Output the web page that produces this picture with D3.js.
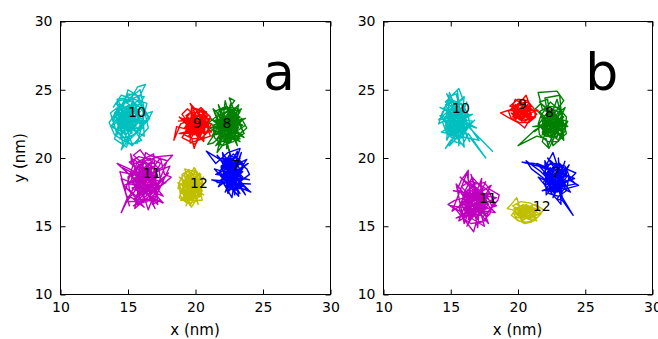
<!DOCTYPE html>
<html><head><meta charset="utf-8">
<script src="https://cdn.jsdelivr.net/npm/d3@7"></script>
<style>body{margin:0;background:#fff}svg{display:block;font-family:"DejaVu Sans",sans-serif}</style>
</head><body><svg id="c" width="658" height="339"></svg>
<script>
const ticks = [10, 15, 20, 25, 30];
const ids = [7, 8, 9, 10, 11, 12];
const colors = ["#0000ff", "#008000", "#ff0000", "#00bfbf", "#bf00bf", "#bfbf00"];
const panels = ["a", "b"];

// panel a trajectories (nm): outer excursions, core, mid-region, periphery jumps
const a7 = [[22.7,19.0],[22.3,19.5],[23.0,18.6],[22.0,18.7],[22.6,20.0],[21.8,19.9],[20.8,20.5],[21.5,19.6],[22.4,20.4],[23.3,20.7],[23.0,19.8],[23.8,19.2],[24.0,18.8],[23.2,18.2],[24.1,17.5],[22.9,18.0],[23.6,17.9],[22.5,18.3],[21.2,18.4],[22.1,18.1],[22.7,17.1],[22.8,17.8],[23.9,17.7],[22.6,18.9],[22.2,20.1],[22.9,19.3],[23.4,18.9],[22.4,18.5],[21.9,19.3],[22.8,20.3],[23.5,19.6],[22.5,19.4],[22.0,20.0],[23.1,19.0],[22.7,18.4],[23.3,17.4],[22.6,18.1],[21.7,18.9],[22.4,19.8],[22.9,18.8]];
const a7c = [[22.5,19.2],[23.1,18.7],[22.2,18.4],[22.9,19.8],[23.4,19.0],[22.6,18.0],[22.1,19.1],[23.0,20.1],[22.4,19.6],[23.3,18.3],[22.7,17.7],[22.0,18.8],[22.8,19.4],[23.5,18.6],[22.3,17.9],[22.9,18.5],[22.2,19.9],[23.2,19.5],[22.6,18.7],[23.4,17.8],[22.5,18.2],[21.9,19.4],[22.8,20.0],[23.1,19.1],[22.4,18.6],[23.0,17.9],[22.7,19.0],[22.1,18.2],[23.3,19.7],[22.6,19.3],[22.9,18.1],[22.3,18.9],[23.2,18.4],[22.5,19.8],[22.0,19.6],[22.8,18.8],[23.4,19.3],[22.7,18.3],[22.2,18.6],[23.0,19.6],[22.6,17.8],[22.4,19.0],[23.1,18.9],[22.9,19.2]];
const a7d = [[22.1,19.7],[22.8,18.9],[23.5,18.1],[22.9,17.6],[22.3,18.3],[21.8,19.0],[22.5,20.2],[23.2,19.9],[23.6,19.4],[23.0,18.4],[22.4,17.8],[22.7,18.6],[23.3,18.8],[22.6,19.6],[22.0,19.2],[22.4,18.0],[23.1,17.7],[23.4,18.5],[22.8,19.7],[22.2,20.0],[22.6,19.1],[23.0,18.2],[22.5,17.6],[21.9,18.4],[22.7,19.4],[23.3,20.0],[22.9,19.0],[22.3,19.4],[22.8,18.5],[23.5,19.0],[22.5,18.9],[22.1,18.6],[23.0,19.3],[22.7,17.9],[22.4,19.3]];
const a7e = [[21.6,20.2],[23.7,17.3],[22.0,20.4],[22.4,17.4],[23.4,20.4],[22.2,17.5],[23.8,19.9],[21.5,18.8],[24.0,18.4],[21.4,19.2],[23.2,17.2],[22.5,20.6],[22.9,17.3],[23.1,20.5],[21.7,17.9],[23.9,19.6],[21.6,18.2],[24.1,18.1]];
const a8 = [[22.4,22.3],[22.0,22.8],[22.8,21.9],[21.8,21.5],[22.6,23.1],[23.2,22.6],[22.5,24.4],[22.9,24.2],[22.3,23.4],[21.5,23.0],[21.0,22.6],[21.7,22.1],[22.9,21.3],[23.6,21.8],[23.0,22.9],[22.2,21.2],[21.6,20.4],[21.9,21.6],[21.3,21.1],[20.9,21.0],[21.5,21.9],[22.7,22.4],[23.3,23.4],[22.1,23.7],[21.4,23.4],[22.0,22.2],[23.1,21.6],[23.8,22.2],[23.4,22.9],[22.6,22.0],[21.8,22.6],[22.4,23.0],[23.0,23.7],[22.3,21.6],[21.6,22.4],[22.8,22.7],[23.5,22.4],[22.2,22.5],[21.9,23.2],[22.7,23.5],[22.5,21.8],[21.7,21.4],[22.3,22.0],[23.1,22.3],[22.4,22.6]];
const a8c = [[22.1,22.7],[22.9,22.0],[21.7,21.8],[22.5,23.2],[23.2,22.5],[22.3,21.3],[21.5,22.3],[22.7,22.9],[23.0,21.6],[22.0,21.5],[21.8,23.0],[22.6,22.3],[23.3,23.0],[22.4,23.5],[21.6,22.6],[22.2,21.9],[22.9,22.7],[22.5,21.1],[21.9,22.1],[22.8,23.3],[23.1,22.1],[22.2,22.4],[21.5,21.7],[22.4,22.0],[23.0,23.3],[22.6,21.6],[21.8,22.9],[22.3,23.1],[22.9,21.9],[22.1,21.2],[21.7,22.4],[22.7,22.2],[23.2,21.8],[22.4,22.8],[21.9,23.4],[22.5,22.5],[23.0,22.4],[22.0,22.0],[22.8,21.4],[22.3,22.6],[21.6,21.4],[22.6,23.0],[22.2,22.2]];
const a8d = [[21.6,23.3],[22.3,23.8],[23.1,23.1],[23.5,22.0],[22.8,21.2],[22.0,20.9],[21.4,21.5],[21.3,22.4],[21.9,22.6],[22.6,22.6],[23.2,23.6],[22.7,23.7],[21.9,23.5],[22.5,22.0],[23.3,21.4],[22.4,21.4],[21.7,22.0],[22.2,23.0],[22.9,23.0],[23.4,22.7],[22.8,22.0],[22.1,21.6],[21.5,22.8],[22.3,22.4],[23.0,21.9],[22.6,21.2],[21.8,21.2],[22.0,22.6],[22.7,23.3],[23.2,22.2],[22.4,22.2],[21.6,22.2],[22.5,23.4],[22.9,22.4],[22.1,22.9]];
const a8e = [[21.2,21.6],[23.7,22.9],[21.0,22.2],[23.3,21.2],[21.1,22.9],[23.6,21.5],[21.3,23.6],[22.5,20.5],[21.7,23.9],[23.1,20.9],[22.2,24.2],[21.8,20.9],[22.6,24.0],[22.3,20.7],[23.2,23.9],[21.2,22.0],[23.4,23.6],[21.5,20.9],[23.7,22.4]];
const a9 = [[20.0,22.4],[19.5,22.8],[20.4,22.0],[19.2,21.8],[19.8,23.2],[20.6,22.9],[19.6,24.0],[20.1,23.0],[18.9,22.5],[18.4,21.3],[18.6,22.3],[19.4,22.1],[20.8,21.9],[21.2,22.5],[20.3,22.6],[19.7,21.5],[19.9,20.7],[20.2,21.6],[19.3,23.1],[20.0,23.6],[20.7,23.3],[19.8,22.2],[19.1,22.9],[20.5,21.4],[21.0,22.2],[20.2,22.9],[19.6,22.6],[18.8,23.0],[19.9,21.9],[20.6,22.4],[20.1,23.4],[19.4,22.4],[20.3,21.8],[21.1,23.0],[20.4,23.7],[19.7,23.0],[19.2,22.2],[20.0,21.8],[20.9,22.7],[20.1,22.5]];
const a9c = [[19.7,22.7],[20.4,22.2],[19.5,22.0],[20.2,23.1],[20.8,22.6],[19.9,21.7],[19.3,22.5],[20.0,22.9],[20.6,21.9],[19.6,21.8],[19.4,23.0],[20.3,22.4],[20.9,23.1],[20.1,22.0],[19.8,23.2],[19.2,22.2],[20.5,22.8],[20.7,21.7],[19.9,22.5],[19.5,22.7],[20.2,21.8],[20.8,22.3],[19.7,22.1],[20.0,23.0],[20.4,22.6],[19.4,21.9],[20.6,23.0],[19.9,22.3],[19.3,22.9],[20.3,21.6],[20.7,22.5],[20.0,22.1],[19.6,22.4],[20.5,22.0],[19.8,22.8]];
const a9d = [[19.1,22.6],[19.6,23.3],[20.4,23.4],[20.9,22.9],[21.0,22.0],[20.5,21.5],[19.8,21.4],[19.2,21.7],[19.5,22.4],[20.2,22.7],[20.7,22.1],[20.1,21.6],[19.4,22.7],[19.9,23.1],[20.6,23.2],[20.9,22.4],[20.3,22.0],[19.7,22.0],[19.2,22.9],[19.8,22.6],[20.5,22.5],[20.0,21.9],[19.5,21.6],[20.1,22.8],[20.7,22.8],[20.3,23.1],[19.6,22.9],[19.3,22.4],[20.0,22.3],[20.6,22.2]];
const a9e = [[18.8,21.8],[21.2,21.9],[19.4,23.6],[19.0,23.2],[20.6,21.2],[20.8,23.4],[19.7,23.7],[19.6,21.1],[21.1,21.6],[20.5,23.6],[19.0,21.5],[20.0,21.0],[21.1,22.9],[18.7,22.7]];
const a10 = [[15.0,22.8],[14.5,23.3],[15.3,22.4],[14.2,22.1],[15.6,23.6],[14.8,24.1],[15.9,24.6],[16.3,25.4],[15.7,25.2],[15.2,24.3],[14.4,23.8],[13.8,22.9],[14.6,22.5],[15.4,23.1],[16.1,22.2],[15.1,21.5],[14.5,20.6],[14.9,21.8],[13.7,22.3],[14.3,23.0],[15.5,22.0],[16.0,21.3],[15.3,21.0],[14.7,22.7],[16.8,23.4],[16.4,22.6],[15.2,23.5],[14.1,24.0],[14.9,23.0],[15.8,23.9],[16.2,24.5],[15.0,24.7],[14.3,23.5],[13.6,22.6],[14.0,21.7],[14.8,21.2],[15.6,22.5],[14.6,23.9],[15.4,24.4],[14.7,22.2],[15.9,22.9],[15.1,22.1],[14.2,22.8],[15.0,23.6],[15.7,24.2],[16.5,23.0],[15.5,21.7],[14.4,21.4],[14.9,22.4],[15.3,23.8],[14.0,23.1],[14.8,23.4],[15.6,22.8],[15.1,22.9]];
const a10c = [[14.6,23.1],[15.4,22.5],[14.3,22.3],[15.1,23.6],[15.8,23.0],[14.8,22.0],[14.2,23.4],[15.0,22.7],[15.7,22.2],[14.5,21.9],[14.9,23.8],[15.5,23.3],[16.0,22.6],[14.4,22.8],[15.2,22.1],[14.7,23.5],[15.6,23.7],[14.1,22.6],[15.0,23.2],[15.3,21.8],[14.6,22.4],[15.9,23.4],[14.3,23.7],[15.2,22.9],[14.8,22.3],[15.6,22.0],[14.0,23.0],[14.9,23.4],[15.4,22.8],[14.5,22.6],[15.1,22.3],[15.8,23.6],[14.7,23.0],[14.2,22.1],[15.3,23.5],[15.0,22.2],[14.4,23.2],[15.6,22.6],[14.9,22.8]];
const a10d = [[14.3,24.2],[15.0,24.3],[15.7,23.9],[16.2,23.3],[15.9,22.4],[15.4,21.6],[14.6,21.5],[14.1,22.0],[13.9,22.8],[14.4,23.5],[15.1,23.9],[15.5,23.5],[15.9,22.8],[15.2,21.9],[14.5,22.2],[14.0,23.3],[14.7,24.0],[15.4,24.2],[15.8,23.2],[15.5,22.3],[14.8,21.7],[14.2,22.5],[14.6,23.2],[15.3,23.3],[15.7,22.6],[15.0,22.0],[14.4,22.0],[14.9,22.9],[15.5,23.9],[14.8,23.7],[14.1,23.6],[14.5,22.9],[15.2,22.5],[15.9,23.7],[15.3,24.0],[14.7,22.6],[15.1,23.1]];
const a10e = [[13.8,22.4],[15.3,20.9],[16.5,22.2],[16.3,23.1],[15.9,25.0],[13.7,23.3],[14.2,21.7],[14.4,22.6],[16.2,21.6],[16.1,23.6],[15.8,24.5],[15.0,25.0],[14.0,21.4],[14.9,20.8],[15.0,21.2],[16.6,22.9],[15.5,24.8],[14.8,24.4],[14.2,24.3],[14.6,21.0],[15.7,21.1],[15.9,21.9],[16.4,24.0],[14.5,24.6],[13.9,23.7]];
const a11 = [[16.3,18.5],[15.8,19.0],[16.7,18.1],[15.6,17.8],[16.1,19.6],[15.4,20.2],[15.9,20.6],[16.5,19.8],[17.2,20.1],[18.3,20.2],[17.5,19.3],[16.9,19.0],[16.2,18.2],[15.3,18.6],[14.2,19.6],[15.1,19.2],[15.9,18.7],[15.2,17.4],[14.5,16.0],[15.0,17.2],[15.7,16.9],[16.4,17.5],[17.0,16.3],[16.6,17.2],[17.6,16.7],[16.8,17.6],[17.3,18.3],[18.0,18.9],[17.1,17.9],[16.0,17.6],[15.5,18.3],[16.2,19.1],[16.9,18.6],[17.4,19.6],[16.6,20.0],[15.7,19.4],[15.1,18.1],[15.9,17.9],[16.7,18.8],[16.1,17.0],[15.4,16.5],[16.3,16.8],[17.2,17.3],[16.5,18.4],[15.8,18.2],[16.4,19.3],[17.0,18.2],[16.2,17.8],[15.6,18.9],[16.8,19.4],[16.0,18.4]];
const a11c = [[15.8,18.8],[16.6,18.0],[15.5,17.6],[16.3,19.4],[17.0,18.6],[16.1,17.3],[15.3,18.3],[16.0,19.1],[16.8,19.6],[15.7,19.7],[15.4,19.0],[16.5,18.4],[17.2,17.9],[16.2,17.1],[15.6,17.9],[16.9,17.5],[16.4,18.9],[15.9,18.2],[15.2,18.7],[16.1,19.8],[16.7,19.1],[17.1,18.2],[16.0,17.7],[15.5,18.5],[16.4,17.4],[16.9,18.9],[15.8,19.3],[16.3,18.3],[15.6,17.2],[16.6,17.7],[17.0,19.4],[15.9,18.6],[15.4,19.5],[16.2,18.7],[16.8,18.1],[15.7,17.5],[16.5,19.6],[16.1,18.0],[15.3,17.8],[16.7,17.2],[16.0,18.9],[16.4,18.6]];
const a11d = [[15.1,19.7],[15.8,20.1],[16.6,19.9],[17.3,19.2],[17.4,18.4],[17.0,17.4],[16.4,16.8],[15.7,17.1],[15.1,17.7],[15.0,18.6],[15.6,19.2],[16.3,19.7],[16.9,19.3],[17.2,18.7],[16.7,17.9],[16.2,17.5],[15.5,17.9],[15.3,18.9],[16.0,19.5],[16.6,18.8],[17.1,17.8],[16.5,17.6],[15.8,17.4],[15.4,18.2],[15.9,19.0],[16.5,19.2],[17.0,18.4],[16.6,17.0],[15.9,16.9],[15.6,18.6],[16.2,19.3],[16.8,19.8],[16.3,18.1],[15.7,18.5],[16.4,17.9],[17.3,18.1],[16.1,18.5]];
const a11e = [[14.6,19.3],[17.2,16.6],[16.9,20.3],[15.3,19.5],[15.2,20.3],[16.5,16.2],[17.9,19.8],[16.6,20.2],[16.3,20.4],[15.5,16.3],[18.2,18.6],[17.7,18.8],[17.4,20.0],[14.9,16.8],[17.4,16.9],[16.8,16.6],[18.1,19.4],[14.7,18.0],[16.2,16.4],[15.4,17.0],[17.8,18.2],[14.4,19.0],[15.1,16.5],[14.5,18.5],[17.6,17.2],[15.5,19.9],[14.8,17.6]];
const a12 = [[19.6,17.9],[19.2,18.3],[19.9,17.6],[19.0,17.4],[19.5,18.6],[19.9,19.3],[20.2,18.7],[19.4,19.0],[18.9,18.5],[18.7,17.8],[19.3,17.2],[19.7,16.4],[20.1,17.0],[20.5,17.6],[20.2,18.2],[19.8,18.1],[19.1,17.9],[18.8,17.1],[19.4,16.7],[20.0,17.4],[20.6,18.0],[20.3,18.9],[19.7,18.4],[19.3,17.7],[19.8,17.2],[19.0,16.9],[19.5,17.5],[20.1,18.4],[19.6,18.9],[19.2,18.6],[19.8,17.8],[20.4,17.2],[19.5,16.9],[19.1,17.5],[19.7,18.0]];
const a12c = [[19.3,18.2],[19.9,17.4],[19.1,17.1],[19.7,18.6],[20.3,17.9],[19.5,17.0],[19.0,18.0],[19.8,18.8],[20.2,17.2],[19.4,17.6],[19.2,18.7],[20.0,18.1],[20.4,18.5],[19.6,17.3],[19.1,17.8],[19.9,17.9],[20.1,16.9],[19.5,18.4],[18.9,17.5],[19.7,17.7],[20.3,18.2],[19.3,16.9],[19.6,18.2],[20.0,17.6],[19.2,18.4],[19.8,17.1],[19.4,18.0],[20.2,18.7],[19.7,17.5],[19.1,17.3]];
const a12d = [[19.0,18.8],[19.5,19.1],[20.1,19.0],[20.5,18.3],[20.4,17.5],[20.0,16.8],[19.4,16.7],[18.9,17.2],[18.8,17.9],[19.3,18.5],[19.9,18.6],[20.2,17.8],[19.8,17.3],[19.2,17.0],[19.0,17.7],[19.6,18.4],[20.1,18.3],[19.7,16.9],[19.3,17.4],[19.5,18.0],[20.3,17.4],[19.9,18.2],[19.4,18.8],[19.1,18.1],[19.7,17.6]];
const a12e = [[18.8,18.6],[20.6,17.3],[18.7,18.2],[19.6,16.5],[20.6,18.6],[18.9,16.9],[20.5,16.9],[20.0,19.2],[19.3,16.5],[20.4,18.8],[19.2,19.2],[20.2,16.6],[19.5,19.2]];

// panel b trajectories (nm)
const b7 = [[22.8,18.3],[22.4,18.7],[23.2,18.0],[22.2,18.1],[22.6,19.0],[21.5,19.4],[20.3,19.7],[21.2,19.6],[22.0,19.3],[22.6,20.4],[22.9,19.5],[23.6,19.2],[24.3,18.9],[23.8,18.4],[24.5,18.0],[23.4,17.7],[22.9,17.0],[23.3,16.9],[24.1,15.8],[23.0,17.6],[22.5,17.9],[21.8,18.6],[21.0,19.2],[20.6,19.8],[21.7,19.0],[22.3,18.4],[23.1,18.8],[23.5,18.2],[22.7,17.5],[22.1,17.8],[22.9,18.6],[23.3,19.3],[22.4,19.6],[21.9,18.9],[22.7,18.1],[23.6,17.9],[22.6,18.5]];
const b7c = [[22.5,18.8],[23.3,18.2],[22.3,17.8],[23.0,19.2],[23.6,18.6],[22.7,17.4],[22.1,18.5],[22.9,18.9],[23.5,17.8],[22.4,19.3],[22.0,18.0],[22.8,18.4],[23.4,19.0],[23.1,17.5],[22.6,18.1],[22.2,19.0],[23.0,18.6],[23.7,18.3],[22.8,17.7],[22.4,18.4],[23.2,19.4],[22.6,19.0],[23.3,17.9],[22.1,17.6],[22.9,18.2],[23.5,19.2],[22.7,18.7],[22.3,18.2],[23.1,18.0],[22.5,17.5],[23.6,18.8],[22.8,19.1],[22.2,18.7],[23.0,17.8],[22.6,18.5]];
const b7d = [[22.0,19.5],[22.8,19.6],[23.5,19.4],[23.8,18.7],[23.6,17.6],[23.0,17.2],[22.3,17.4],[21.9,18.2],[22.2,18.9],[22.9,19.2],[23.4,18.4],[23.2,17.7],[22.6,17.7],[22.1,18.3],[22.5,19.1],[23.1,19.6],[23.7,19.0],[23.3,18.6],[22.7,18.2],[22.3,18.6],[22.9,17.5],[23.5,18.0],[22.4,17.9],[22.0,18.8],[22.7,19.4],[23.3,19.1],[22.8,18.7],[23.1,18.3],[22.5,18.4]];
const b7e = [[21.4,19.6],[24.2,18.5],[21.8,17.6],[24.3,18.1],[22.2,20.0],[23.9,17.5],[21.5,18.6],[23.2,16.6],[23.0,20.0],[23.3,17.0],[22.0,19.8],[22.1,17.3],[23.8,19.5],[22.6,17.1],[23.5,19.8]];
const b8 = [[22.6,22.5],[22.2,23.0],[23.0,22.1],[22.0,21.9],[22.8,23.4],[23.4,24.2],[22.9,24.9],[21.5,24.8],[21.8,23.6],[22.5,23.2],[23.2,22.8],[23.7,22.7],[23.3,21.9],[22.7,21.5],[22.3,20.7],[22.1,21.4],[21.4,21.6],[20.0,20.9],[21.2,22.0],[21.9,22.4],[22.7,22.2],[23.1,23.5],[22.4,24.1],[21.7,23.1],[21.5,22.5],[22.4,21.8],[23.0,21.3],[23.5,22.3],[22.9,22.9],[22.1,22.7],[21.8,21.7],[22.6,21.9],[23.2,22.4],[22.5,23.6],[21.9,23.0],[22.3,22.3],[23.0,22.6],[22.7,23.0],[21.6,24.1],[22.2,24.3],[22.4,22.8]];
const b8c = [[22.2,22.9],[23.0,22.1],[21.9,21.8],[22.7,23.3],[23.3,22.6],[22.4,21.5],[21.8,22.5],[22.5,22.8],[23.1,21.7],[22.1,22.2],[22.8,23.5],[23.4,23.0],[22.3,21.9],[21.7,23.1],[22.6,22.3],[23.2,22.9],[22.9,21.5],[22.0,21.6],[22.4,23.2],[23.0,22.7],[22.6,21.9],[21.9,22.8],[22.8,22.2],[23.3,21.9],[22.2,23.4],[22.5,22.1],[23.1,23.2],[22.0,22.4],[22.7,21.7],[23.4,22.4],[22.3,22.6],[21.8,21.9],[22.9,22.9],[22.5,22.5]];
const b8d = [[21.6,23.4],[22.3,23.8],[23.0,23.7],[23.6,23.0],[23.5,22.0],[23.0,21.2],[22.2,21.2],[21.6,21.7],[21.5,22.4],[22.0,23.1],[22.7,23.5],[23.3,23.3],[23.2,22.2],[22.6,21.5],[21.9,21.9],[21.8,22.9],[22.5,23.0],[23.1,22.6],[22.8,21.8],[22.1,21.6],[21.7,22.3],[22.4,22.7],[23.0,23.0],[23.4,21.6],[22.6,22.1],[22.0,22.7],[22.3,23.5],[22.9,22.3],[22.2,22.0],[22.7,22.6]];
const b8e = [[21.1,22.3],[23.7,22.3],[21.7,24.0],[21.3,23.6],[23.4,21.3],[23.1,24.6],[22.0,24.4],[22.6,20.9],[23.6,21.8],[22.9,24.3],[21.8,21.2],[22.2,20.8],[23.5,23.7],[21.2,21.9]];
const b9 = [[20.3,23.3],[19.9,23.6],[20.7,23.0],[19.6,23.0],[20.2,24.1],[20.6,24.6],[20.9,23.8],[20.1,23.4],[19.3,23.5],[18.7,23.3],[19.4,22.9],[20.0,22.6],[20.5,22.2],[20.8,22.7],[21.4,23.2],[21.0,23.6],[20.4,23.9],[19.8,24.3],[19.6,23.8],[20.2,23.0],[20.9,23.3],[21.5,23.5],[20.6,23.5],[19.9,22.9],[19.5,23.3],[20.3,22.7],[20.8,24.1],[20.0,24.0],[19.7,23.3],[20.4,23.4],[21.1,22.9],[20.5,23.1]];
const b9c = [[19.9,23.5],[20.6,23.0],[19.7,22.9],[20.4,23.9],[21.0,23.3],[20.1,22.8],[19.5,23.6],[20.3,23.2],[20.9,23.8],[20.0,24.0],[19.6,23.2],[20.5,22.7],[21.1,23.0],[20.2,23.6],[19.8,22.8],[20.7,23.5],[20.4,23.1],[19.6,23.9],[20.1,23.3],[20.8,22.9],[20.3,23.8],[19.9,23.0],[20.6,23.6],[21.0,23.8],[20.2,22.9],[19.7,23.4],[20.5,23.4]];
const b9d = [[19.4,23.8],[20.0,24.3],[20.7,24.2],[21.2,23.6],[21.3,23.0],[20.8,22.6],[20.1,22.6],[19.5,22.9],[19.3,23.4],[19.8,23.9],[20.5,23.8],[21.0,23.2],[20.6,22.8],[19.9,23.2],[19.6,23.6],[20.2,24.1],[20.9,23.6],[20.4,22.9],[19.7,23.1],[20.0,23.7],[20.7,23.3],[20.3,23.5]];
const b10 = [[15.4,22.5],[15.0,23.0],[15.8,22.2],[14.8,21.9],[15.3,23.6],[14.6,24.1],[15.6,25.1],[15.9,24.3],[15.2,23.9],[14.4,23.4],[14.1,22.5],[14.6,22.8],[15.5,21.8],[14.6,20.7],[15.0,21.3],[15.9,21.0],[16.3,21.8],[17.6,20.0],[16.5,21.4],[15.7,21.6],[16.2,22.4],[18.1,20.5],[16.7,21.9],[15.9,22.7],[15.1,22.3],[14.3,23.0],[14.9,24.5],[15.4,24.7],[15.7,23.5],[16.4,23.1],[15.6,22.9],[14.9,22.1],[15.3,21.4],[16.0,21.5],[15.2,22.8],[14.5,23.7],[15.1,24.1],[15.8,23.9],[16.1,23.2],[15.5,22.0],[14.7,22.4],[15.3,22.9],[16.6,22.7],[15.9,21.9],[15.2,21.9],[15.6,22.6]];
const b10c = [[15.0,22.9],[15.7,22.3],[14.8,22.1],[15.4,23.5],[16.1,22.9],[15.2,21.6],[14.6,22.7],[15.5,23.0],[16.0,21.8],[15.1,23.7],[14.7,23.3],[15.6,22.6],[16.2,23.4],[15.3,22.0],[14.9,22.5],[15.8,23.7],[15.4,21.7],[14.5,23.0],[15.2,23.2],[15.9,22.5],[15.0,21.9],[14.8,23.6],[15.6,23.3],[16.0,22.2],[15.3,22.7],[14.6,22.2],[15.5,21.6],[15.1,22.4],[15.8,23.1],[14.9,23.0],[15.4,22.2],[16.1,23.6],[15.2,22.9],[15.6,21.9],[15.0,23.4],[15.5,22.5]];
const b10d = [[14.6,23.9],[15.2,24.2],[15.8,24.0],[16.3,23.2],[16.4,22.4],[15.9,21.6],[15.2,21.4],[14.7,21.8],[14.4,22.6],[14.8,23.4],[15.5,23.8],[16.0,23.3],[16.2,22.6],[15.6,22.0],[15.0,21.6],[14.6,22.4],[15.0,23.2],[15.7,23.6],[16.1,22.1],[15.4,21.9],[14.8,22.8],[15.3,23.6],[15.9,22.8],[15.4,22.4],[14.7,23.0],[15.1,22.6],[15.7,22.9],[15.2,23.3]];
const b10e = [[14.2,23.7],[16.9,22.2],[14.2,23.1],[16.0,20.8],[15.5,24.9],[15.6,20.9],[16.0,24.5],[14.1,22.8],[16.6,23.2],[14.3,21.9],[17.1,21.3],[14.7,24.7],[16.4,21.2],[14.9,24.8],[14.7,21.3],[16.2,24.1],[14.9,20.9],[16.8,22.8]];
const b11 = [[17.0,16.8],[16.6,17.3],[17.4,16.4],[16.4,16.2],[16.9,17.8],[16.3,18.3],[16.3,19.1],[15.8,18.4],[15.5,17.7],[16.1,17.1],[15.3,16.9],[14.8,16.6],[15.4,16.2],[16.0,15.5],[16.7,14.6],[16.9,15.3],[17.6,15.4],[17.8,16.1],[18.5,16.9],[18.6,17.3],[17.9,17.7],[17.5,18.2],[16.8,18.1],[16.2,17.6],[15.7,16.5],[16.5,16.7],[17.2,17.2],[17.7,16.8],[17.1,15.9],[16.3,15.8],[15.6,15.4],[16.0,16.4],[16.8,16.5],[17.3,17.8],[16.6,18.6],[15.9,17.3],[16.4,16.9],[17.6,17.4],[18.1,16.4],[17.4,15.7],[16.7,16.0],[16.2,16.8],[17.0,17.5],[16.5,17.0]];
const b11c = [[16.4,17.3],[17.3,16.5],[16.1,16.1],[16.8,17.9],[17.7,17.2],[16.6,15.6],[15.9,16.8],[16.9,17.0],[17.6,15.9],[16.3,17.7],[16.0,15.7],[17.1,16.2],[17.9,17.5],[16.7,16.6],[16.2,17.0],[17.4,17.8],[17.0,15.5],[16.4,16.3],[15.8,17.4],[16.9,16.4],[17.5,17.0],[16.5,18.0],[17.2,15.9],[16.1,16.6],[17.8,16.3],[16.7,17.3],[16.3,15.5],[17.0,16.9],[17.6,16.6],[16.5,16.0],[15.9,17.1],[17.3,17.5],[16.8,15.9],[16.2,16.9],[17.4,16.2],[16.6,17.6],[17.1,17.2],[16.4,16.7],[17.7,15.7],[16.9,16.6]];
const b11d = [[15.8,17.9],[16.4,18.3],[17.1,18.1],[17.8,17.6],[18.2,16.8],[17.9,15.9],[17.3,15.3],[16.5,15.2],[15.9,15.6],[15.6,16.4],[16.0,17.2],[16.7,17.7],[17.4,17.4],[17.8,16.6],[17.3,16.0],[16.6,15.7],[16.0,16.2],[16.3,16.9],[17.0,17.6],[17.6,17.1],[17.5,16.2],[16.9,15.7],[16.2,15.9],[15.8,16.6],[16.5,17.4],[17.2,16.8],[16.8,16.2],[16.1,16.5],[16.7,17.0],[17.4,16.5],[16.9,17.3],[16.3,17.4]];
const b11e = [[15.2,17.6],[18.4,17.1],[15.4,15.6],[18.4,16.5],[15.7,18.6],[18.3,16.0],[15.0,16.5],[17.5,15.0],[16.5,18.8],[17.8,15.2],[15.4,18.1],[16.0,15.2],[17.3,18.5],[17.0,14.9],[16.2,18.9],[15.1,16.1],[18.0,18.0],[16.2,15.0],[17.6,18.3]];
const b12 = [[20.6,16.0],[20.2,16.3],[21.0,15.8],[20.1,15.7],[19.6,16.2],[19.2,16.3],[19.5,16.6],[19.9,17.1],[20.1,16.5],[20.7,16.4],[21.3,16.6],[21.9,16.2],[21.5,15.7],[21.0,15.3],[20.5,15.2],[19.9,15.5],[19.7,15.9],[20.4,16.0],[21.2,16.1],[21.6,15.9],[20.8,15.6],[20.3,15.5],[20.0,16.1],[20.6,16.6],[21.1,16.3],[20.9,15.9],[20.3,16.2],[19.8,16.4],[20.5,15.7],[21.4,15.4],[20.7,16.1]];
const b12c = [[20.1,16.2],[20.9,15.7],[19.8,15.6],[20.5,16.5],[21.3,16.0],[20.3,15.4],[19.7,16.3],[20.6,15.9],[21.1,16.5],[20.8,15.5],[20.0,15.9],[21.4,15.6],[20.4,16.3],[19.9,16.6],[20.7,16.2],[21.2,15.7],[20.2,15.7],[20.9,16.4],[21.5,16.2],[20.5,15.6],[20.0,16.4],[20.8,16.0],[21.0,15.4],[20.3,16.0],[19.8,15.9],[20.6,16.5],[21.3,16.3],[20.4,15.8]];
const b12d = [[19.6,16.5],[20.2,16.8],[20.9,16.7],[21.5,16.4],[21.7,15.9],[21.2,15.4],[20.6,15.3],[20.0,15.4],[19.5,15.8],[19.9,16.3],[20.6,16.3],[21.2,16.0],[20.8,15.6],[20.1,15.8],[19.7,16.1],[20.4,16.6],[21.0,16.1],[21.4,15.8],[20.7,15.8],[20.2,16.1],[20.5,16.4],[21.1,15.6]];

// label anchor points (nm)
const labelsA = [[22.7,19.1],[22.0,22.2],[19.8,22.2],[15.0,23.0],[16.1,18.5],[19.6,17.8]];
const labelsB = [[22.5,18.6],[22.0,23.0],[20.0,23.6],[15.1,23.3],[17.1,16.7],[21.1,16.15]];
const letterPos = [25, 25];

const tracks = {
  a: [a7.concat(a7c, a7d, a7e), a8.concat(a8c, a8d, a8e), a9.concat(a9c, a9d, a9e),
      a10.concat(a10c, a10d, a10e), a11.concat(a11c, a11d, a11e), a12.concat(a12c, a12d, a12e)],
  b: [b7.concat(b7c, b7d, b7e), b8.concat(b8c, b8d, b8e), b9.concat(b9c, b9d),
      b10.concat(b10c, b10d, b10e), b11.concat(b11c, b11d, b11e), b12.concat(b12c, b12d)]
};
const labels = {a: labelsA, b: labelsB};

const svg = d3.select("#c");
const boxes = {a: {x0: 60, x1: 330}, b: {x0: 383, x1: 652}};
const yTop = 21.5, yBot = 294.5;

panels.forEach(p => {
  const b = boxes[p];
  const x = d3.scaleLinear().domain([10, 30]).range([b.x0 + 0.5, b.x1 + 0.5]);
  const y = d3.scaleLinear().domain([10, 30]).range([yBot, yTop]);
  const g = svg.append("g");
  const clipId = "clip" + p;
  g.append("clipPath").attr("id", clipId).append("rect")
    .attr("x", b.x0).attr("y", yTop).attr("width", b.x1 - b.x0).attr("height", yBot - yTop);
  const line = d3.line().x(d => x(d[0])).y(d => y(d[1]));
  const plot = g.append("g").attr("clip-path", `url(#${clipId})`);
  tracks[p].forEach((t, i) => {
    plot.append("path").datum(t).attr("d", line).attr("fill", "none")
      .attr("stroke", colors[i]).attr("stroke-width", 1.4).attr("stroke-linejoin", "round");
  });
  labels[p].forEach((l, i) => {
    g.append("text").attr("x", x(l[0])).attr("y", y(l[1])).attr("font-size", 14)
      .attr("fill", "#000").text(ids[i]);
  });
  g.append("text").attr("x", x(letterPos[0])).attr("y", y(letterPos[1])).attr("font-size", 52)
    .attr("fill", "#000").text(p);

  const ax = [
    d3.axisBottom(x).tickValues(ticks).tickSizeInner(-5).tickSizeOuter(0).tickPadding(8),
    d3.axisTop(x).tickValues(ticks).tickSizeInner(-5).tickSizeOuter(0).tickFormat(""),
    d3.axisLeft(y).tickValues(ticks).tickSizeInner(-5).tickSizeOuter(0).tickPadding(8),
    d3.axisRight(y).tickValues(ticks).tickSizeInner(-5).tickSizeOuter(0).tickFormat("")
  ];
  const tr = [`translate(0,${yBot})`, `translate(0,${yTop})`, `translate(${b.x0 + 0.5},0)`, `translate(${b.x1 + 0.5},0)`];
  ax.forEach((a, i) => {
    const ag = g.append("g").attr("transform", tr[i]).call(a);
    ag.select(".domain").remove();
    ag.selectAll("line").attr("stroke", "#000");
    ag.selectAll("text").attr("font-size", 14).attr("fill", "#000").attr("font-family", "DejaVu Sans");
  });
  g.append("rect").attr("x", b.x0 + 0.5).attr("y", yTop).attr("width", b.x1 - b.x0).attr("height", yBot - yTop)
    .attr("fill", "none").attr("stroke", "#000").attr("stroke-width", 1);
  g.append("text").attr("x", (b.x0 + b.x1) / 2).attr("y", 335).attr("text-anchor", "middle")
    .attr("font-size", 15).attr("fill", "#000").text("x (nm)");
  if (p === "a") {
    g.append("text").attr("transform", `translate(25,${(yTop + yBot) / 2}) rotate(-90)`)
      .attr("text-anchor", "middle").attr("font-size", 15).attr("fill", "#000").text("y (nm)");
  }
});
</script></body></html>
